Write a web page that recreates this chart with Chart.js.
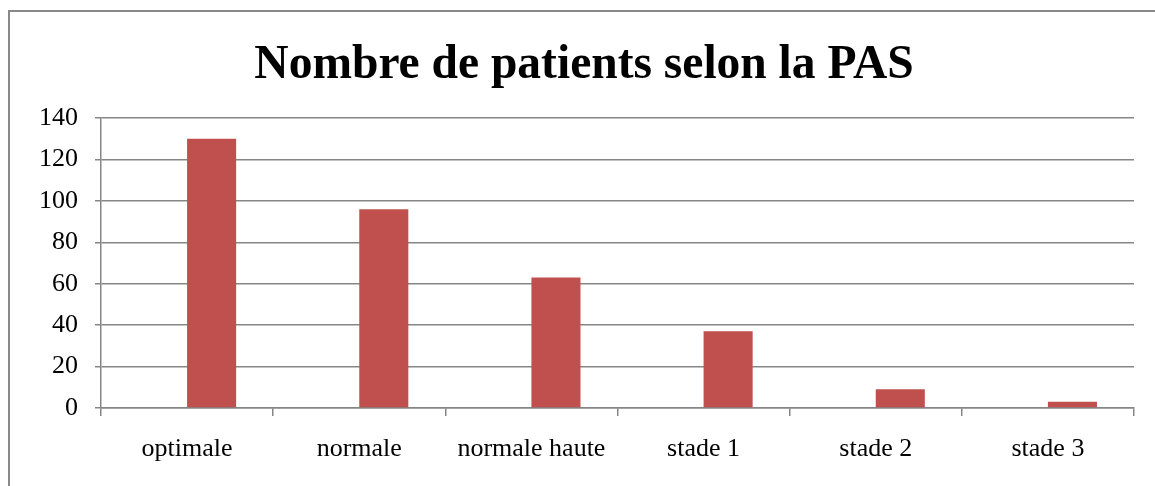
<!DOCTYPE html>
<html>
<head>
<meta charset="utf-8">
<script src="https://cdn.jsdelivr.net/npm/chart.js@4/dist/chart.umd.min.js"></script>
<style>
  html, body { margin: 0; padding: 0; background: #fff; overflow: hidden; }
  #wrap { position: relative; width: 1155px; height: 486px; }
  #frame { position: absolute; left: 8px; top: 10px; width: 2000px; height: 2000px;
           border-left: 2px solid #888888; border-top: 2px solid #888888; pointer-events: none; }
</style>
</head>
<body>
<div id="wrap">
  <canvas id="myChart" width="1155" height="486"></canvas>
  <div id="frame"></div>
</div>
<script>
//DATA:
const categories = ['optimale', 'normale', 'normale haute', 'stade 1', 'stade 2', 'stade 3'];
const emptySeries = [null, null, null, null, null, null];
const patients = [130, 96, 63, 37, 9, 3];
const yTicks = [0, 20, 40, 60, 80, 100, 120, 140];

const serif = "'Liberation Serif', 'Times New Roman', serif";
const gray = '#868686';

const chartLayout = document.getElementById('myChart');

const myChart = new Chart(chartLayout, {
  type: 'bar',
  data: {
    labels: categories,
    datasets: [{
        label: 'Série 1',
        data: emptySeries,
        backgroundColor: 'rgba(0,0,0,0)'
      },
      {
        label: 'Série 2',
        data: patients,
        backgroundColor: '#C0504D'
      }
    ]
  },
  options: {
    responsive: false,
    animation: false,
    categoryPercentage: 0.57,
    barPercentage: 1,
    layout: {
      padding: { left: 34, right: 21, top: 0, bottom: 0 }
    },
    plugins: {
      legend: { display: false },
      tooltip: { enabled: false },
      title: {
        display: true,
        text: 'Nombre de patients selon la PAS',
        color: '#000',
        font: { family: serif, size: 47.5, weight: 'bold' },
        padding: { top: 37, bottom: 24 }
      }
    },
    scales: {
      x: {
        afterFit: (scale) => { scale.height = 78; },
        grid: { drawOnChartArea: false, tickLength: 8, color: gray, lineWidth: 1.5 },
        border: { color: gray, width: 1.5 },
        ticks: { color: '#000', font: { family: serif, size: 26 }, padding: 18, maxRotation: 0 }
      },
      y: {
        min: 0,
        max: 140,
        afterFit: (scale) => { scale.width = 67; },
        afterBuildTicks: (scale) => { scale.ticks = yTicks.map(v => ({ value: v })); },
        grid: { color: gray, tickLength: 6, lineWidth: 1.5 },
        border: { color: gray, width: 1.5 },
        ticks: { color: '#000', font: { family: serif, size: 26 }, padding: 17 }
      }
    }
  }
});
</script>
</body>
</html>
